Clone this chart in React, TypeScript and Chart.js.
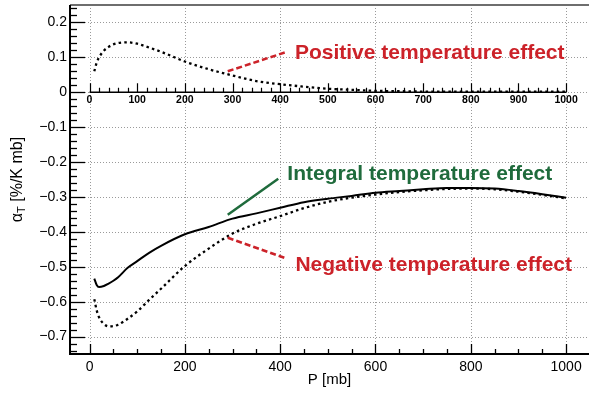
import React, { useEffect, useRef } from "react";
import { Chart, registerables } from "chart.js";

Chart.register(...registerables);

// ---- data ----
const pressure = [10, 15, 20, 30, 40, 50, 60, 80, 100, 125, 150, 200, 250, 300, 350, 400, 450, 500, 550, 600, 650, 700, 750, 800, 850, 900, 950, 1000];
const integralEffect = [-0.534, -0.552, -0.558, -0.555, -0.548, -0.54, -0.53, -0.503, -0.484, -0.46, -0.44, -0.407, -0.386, -0.362, -0.347, -0.331, -0.315, -0.305, -0.297, -0.288, -0.283, -0.278, -0.274, -0.274, -0.276, -0.283, -0.292, -0.302];
const negativeEffect = [-0.593, -0.625, -0.645, -0.664, -0.671, -0.67, -0.666, -0.649, -0.628, -0.595, -0.563, -0.498, -0.448, -0.405, -0.377, -0.355, -0.332, -0.314, -0.302, -0.293, -0.286, -0.281, -0.277, -0.276, -0.278, -0.285, -0.294, -0.304];
const positiveEffect = [0.06, 0.085, 0.1, 0.119, 0.13, 0.137, 0.141, 0.143, 0.139, 0.128, 0.116, 0.088, 0.066, 0.048, 0.032, 0.023, 0.016, 0.01, 0.007, 0.004, 0.003, 0.002, 0.002, 0.002, 0.002, 0.002, 0.002, 0.002];

const xTickValues = [0, 200, 400, 600, 800, 1000];
const yTickValues = [-0.7, -0.6, -0.5, -0.4, -0.3, -0.2, -0.1, 0, 0.1, 0.2];
const insetTickLabels = [0, 100, 200, 300, 400, 500, 600, 700, 800, 900, 1000];
const annotationTexts = ["Positive temperature effect", "Integral temperature effect", "Negative temperature effect"];

const FONT = "'Liberation Sans', Arial, Helvetica, sans-serif";
const RED = "#cc2229";
const GREEN = "#1f6b3c";

// annotation anchors in data coordinates
const annotations = [
  { text: annotationTexts[0], color: RED, dash: [6, 3], from: [290, 0.06], to: [410, 0.114], label: [431, 0.096] },
  { text: annotationTexts[1], color: GREEN, dash: [], from: [290, -0.351], to: [396, -0.248], label: [415, -0.25] },
  { text: annotationTexts[2], color: RED, dash: [6, 3], from: [290, -0.417], to: [410, -0.475], label: [432, -0.511] },
];

const rootStyle = {
  id: "rootStyle",
  beforeDatasetsDraw(chart: any) {
    const { ctx, chartArea: a, scales } = chart;
    const x = scales.x, y = scales.y;
    ctx.save();
    ctx.strokeStyle = "#9a9a9a";
    ctx.lineWidth = 1;
    ctx.setLineDash([1, 2]);
    for (const t of x.ticks) {
      const px = Math.round(x.getPixelForValue(t.value)) + 0.5;
      ctx.beginPath(); ctx.moveTo(px, a.top); ctx.lineTo(px, a.bottom); ctx.stroke();
    }
    for (const t of y.ticks) {
      const py = Math.round(y.getPixelForValue(t.value)) + 0.5;
      ctx.beginPath(); ctx.moveTo(a.left, py); ctx.lineTo(a.right, py); ctx.stroke();
    }
    ctx.restore();
  },
  afterDatasetsDraw(chart: any) {
    const { ctx, chartArea: a, scales } = chart;
    const x = scales.x, y = scales.y;
    ctx.save();
    ctx.setLineDash([]);
    // frame
    ctx.strokeStyle = "#6e6e6e"; ctx.lineWidth = 2;
    ctx.beginPath(); ctx.moveTo(a.left, a.top); ctx.lineTo(a.right, a.top); ctx.stroke();
    ctx.strokeStyle = "#000"; ctx.lineWidth = 2;
    ctx.beginPath(); ctx.moveTo(a.left, a.top); ctx.lineTo(a.left, a.bottom); ctx.lineTo(a.right, a.bottom); ctx.stroke();
    // y ticks
    ctx.lineWidth = 1.3;
    for (let i = -37; i <= 12; i++) {
      const v = i * 0.02;
      const major = i % 5 === 0;
      const py = Math.round(y.getPixelForValue(v)) + 0.5;
      ctx.beginPath(); ctx.moveTo(a.left, py); ctx.lineTo(a.left + (major ? 15 : 7), py); ctx.stroke();
    }
    // x ticks bottom
    for (let i = 0; i <= 20; i++) {
      const v = i * 50;
      const major = i % 4 === 0;
      const px = Math.round(x.getPixelForValue(v)) + 0.5;
      ctx.beginPath(); ctx.moveTo(px, a.bottom); ctx.lineTo(px, a.bottom - (major ? 10 : 5)); ctx.stroke();
    }
    // inset axis at y = 0
    const y0 = y.getPixelForValue(0);
    ctx.lineWidth = 1.5;
    ctx.beginPath(); ctx.moveTo(x.getPixelForValue(0), y0); ctx.lineTo(x.getPixelForValue(1000), y0); ctx.stroke();
    ctx.lineWidth = 1.2;
    for (let i = 0; i <= 50; i++) {
      const v = i * 20;
      const major = i % 5 === 0;
      const px = Math.round(x.getPixelForValue(v)) + 0.5;
      ctx.beginPath(); ctx.moveTo(px, y0); ctx.lineTo(px, y0 - (major ? 9 : 4.5)); ctx.stroke();
    }
    ctx.fillStyle = "#000";
    ctx.font = `bold 10.5px ${FONT}`;
    ctx.textAlign = "center"; ctx.textBaseline = "top";
    for (const v of insetTickLabels) ctx.fillText(String(v), x.getPixelForValue(v), y0 + 3);
    // annotations
    for (const an of annotations) {
      ctx.strokeStyle = an.color; ctx.lineWidth = 2.5; ctx.setLineDash(an.dash);
      ctx.beginPath();
      ctx.moveTo(x.getPixelForValue(an.from[0]), y.getPixelForValue(an.from[1]));
      ctx.lineTo(x.getPixelForValue(an.to[0]), y.getPixelForValue(an.to[1]));
      ctx.stroke();
      ctx.setLineDash([]);
      ctx.fillStyle = an.color;
      ctx.font = `bold 21px ${FONT}`;
      ctx.textAlign = "left"; ctx.textBaseline = "alphabetic";
      ctx.fillText(an.text, x.getPixelForValue(an.label[0]), y.getPixelForValue(an.label[1]));
    }
    ctx.restore();
  },
  afterDraw(chart: any) {
    const { ctx, chartArea: a } = chart;
    ctx.save();
    ctx.translate(18, (a.top + a.bottom) / 2);
    ctx.rotate(-Math.PI / 2);
    ctx.fillStyle = "#000";
    ctx.textBaseline = "middle";
    ctx.textAlign = "left";
    const f1 = `16px ${FONT}`, f2 = `11px ${FONT}`;
    ctx.font = f1; const wA = ctx.measureText("α").width;
    ctx.font = f2; const wT = ctx.measureText("T").width;
    ctx.font = f1; const wR = ctx.measureText(" [%/K mb]").width;
    let cx = -(wA + wT + wR) / 2;
    ctx.font = f1; ctx.fillText("α", cx, 0); cx += wA;
    ctx.font = f2; ctx.fillText("T", cx, 4); cx += wT;
    ctx.font = f1; ctx.fillText(" [%/K mb]", cx, 0);
    ctx.restore();
  },
};

function toPoints(ys: number[]) {
  return pressure.map((p, i) => ({ x: p, y: ys[i] }));
}

const DOT = [2.5, 3.2];

export default function App() {
  const ref = useRef<HTMLCanvasElement>(null);
  useEffect(() => {
    document.body.style.margin = "0";
    const chart = new Chart(ref.current as HTMLCanvasElement, {
      type: "line",
      data: {
        datasets: [
          { label: "Integral temperature effect", data: toPoints(integralEffect), borderColor: "#000", borderWidth: 2, pointRadius: 0, cubicInterpolationMode: "monotone", fill: false },
          { label: "Negative temperature effect", data: toPoints(negativeEffect), borderColor: "#000", borderWidth: 2.3, borderDash: DOT, pointRadius: 0, cubicInterpolationMode: "monotone", fill: false },
          { label: "Positive temperature effect", data: toPoints(positiveEffect), borderColor: "#000", borderWidth: 2.3, borderDash: DOT, pointRadius: 0, cubicInterpolationMode: "monotone", fill: false },
        ],
      },
      options: {
        animation: false,
        responsive: true,
        maintainAspectRatio: false,
        layout: { padding: { top: 5, right: 0, left: 0, bottom: 0 } },
        plugins: { legend: { display: false }, tooltip: { enabled: false } },
        scales: {
          x: {
            type: "linear",
            min: -41,
            max: 1048,
            grid: { display: false, drawTicks: false },
            border: { display: false },
            afterBuildTicks: (s: any) => { s.ticks = xTickValues.map((v) => ({ value: v })); },
            ticks: { autoSkip: false, maxRotation: 0, padding: 5, color: "#000", font: { family: FONT, size: 14 }, callback: (v: any) => String(v) },
            title: { display: true, text: "P [mb]", color: "#000", font: { family: FONT, size: 15 }, padding: { top: 0, bottom: 4 } },
            afterFit: (s: any) => { s.height = 39; s.paddingLeft = 0; s.paddingRight = 0; },
          },
          y: {
            type: "linear",
            min: -0.75,
            max: 0.25,
            grid: { display: false, drawTicks: false },
            border: { display: false },
            afterBuildTicks: (s: any) => { s.ticks = yTickValues.map((v) => ({ value: v })); },
            ticks: {
              autoSkip: false,
              padding: 3,
              color: "#000",
              font: { family: FONT, size: 14 },
              callback: (v: any) => {
                const n = Number(v);
                if (Math.abs(n) < 1e-9) return "0";
                return (n < 0 ? "\u2212" : "") + Math.abs(n).toFixed(1);
              },
            },
            afterFit: (s: any) => { s.width = 70; s.paddingTop = 0; s.paddingBottom = 0; },
          },
        },
      },
      plugins: [rootStyle],
    } as any);
    return () => chart.destroy();
  }, []);
  return (
    <div style={{ width: 589, height: 393, position: "relative" }}>
      <canvas ref={ref} />
    </div>
  );
}
